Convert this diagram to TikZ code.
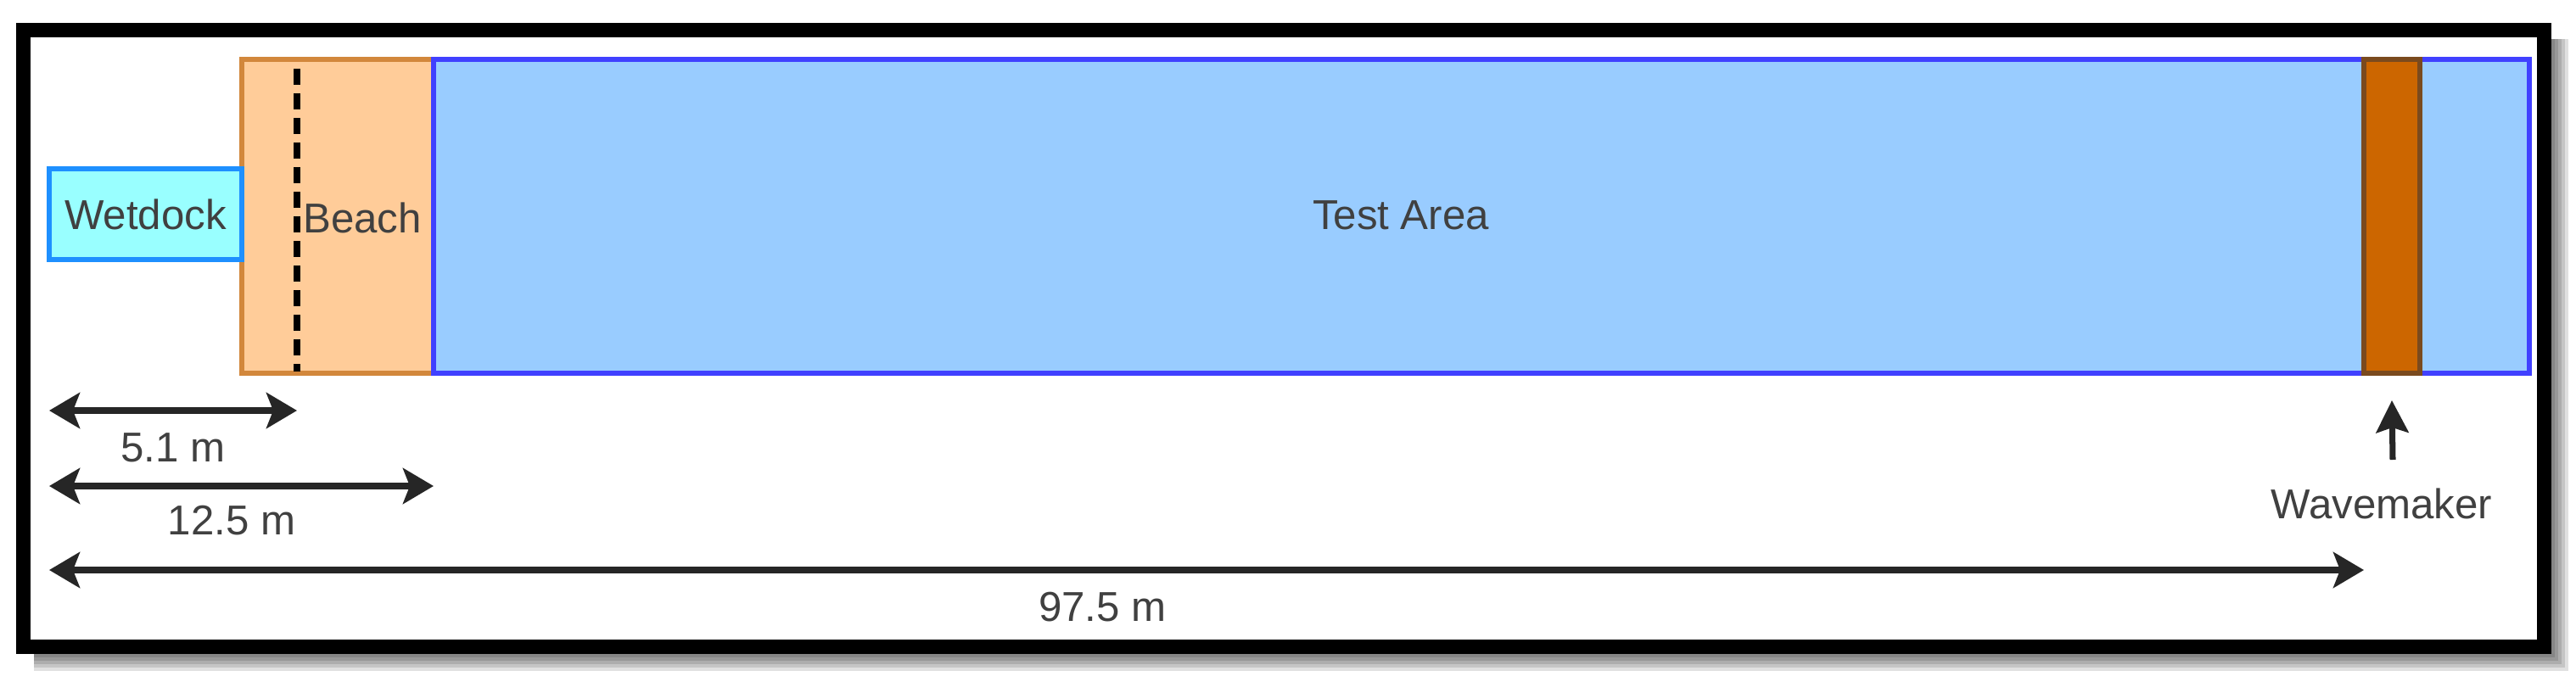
\documentclass[tikz,border=0pt]{standalone}
\usepackage{fontspec}
\setmainfont{Liberation Sans}
\usetikzlibrary{arrows.meta}
\definecolor{dockfill}{RGB}{153,255,255}
\definecolor{dockline}{RGB}{30,144,255}
\definecolor{beachfill}{RGB}{255,204,153}
\definecolor{beachline}{RGB}{210,135,60}
\definecolor{testfill}{RGB}{153,204,255}
\definecolor{testline}{RGB}{64,64,255}
\definecolor{wmfill}{RGB}{204,102,0}
\definecolor{wmline}{RGB}{122,74,30}
\definecolor{txtgray}{RGB}{64,64,64}
\begin{document}
\begin{tikzpicture}[thick, font=\fontsize{14}{16}\selectfont, text=txtgray]
	\tikzstyle{zone} = [rectangle, draw, inner sep=0, outer sep=0, line width=1.7pt]
	\tikzstyle{dim} = [{Stealth[length=0.36cm,width=0.42cm,inset=0.08cm]}-{Stealth[length=0.36cm,width=0.42cm,inset=0.08cm]}, line width=2.4pt, draw=black!85]
	\tikzstyle{ptr} = [-{Stealth[length=0.38cm,width=0.38cm,inset=0.06cm]}, line width=2pt, draw=black!85]
	\useasboundingbox (0,0) rectangle (30.36,8.16);
	\foreach \s in {0.04,0.08,0.12,0.16,0.20}
		\fill[black, opacity=0.12] (0.40,0.45-\s) rectangle (30.07+\s,7.70);
	\draw[line width=0.17cm, fill=white] (0.275,0.535) rectangle (29.985,7.805);
	\node[zone, draw=beachline, fill=beachfill, minimum width=2.26cm, minimum height=3.70cm](beach) at (3.98,5.61) {};
	\node[zone, draw=testline, fill=testfill, minimum width=24.70cm, minimum height=3.70cm](test) at (17.46,5.61) {};
	\node[zone, draw=wmline, fill=wmfill, minimum width=0.66cm, minimum height=3.70cm](wm) at (28.19,5.61) {};
	\node[zone, draw=dockline, fill=dockfill, minimum width=2.27cm, minimum height=1.07cm](wetdock) at (1.715,5.635) {Wetdock};
	\coordinate (dashtop) at (3.50,7.35);
	\coordinate (dashbot) at (3.50,3.78);
	\draw[line width=2pt, dash pattern=on 0.19cm off 0.1cm] (dashtop) -- (dashbot);
	\node[inner sep=0, anchor=west](beachlbl) at (3.56,5.59) {Beach};
	\node(testlbl) at (16.51,5.62) {Test Area};
	\node(wmlbl) at (28.07,2.22) {Wavemaker};
	\coordinate (row1) at (0,3.32);
	\coordinate (row2) at (0,2.43);
	\coordinate (row3) at (0,1.44);
	\draw[dim] (wetdock.west |- row1) -- (dashbot |- row1) node[midway, yshift=-0.44cm] {5.1 m};
	\draw[dim] (wetdock.west |- row2) -- (beach.east |- row2) node[pos=0.475, yshift=-0.41cm] {12.5 m};
	\draw[dim] (wetdock.west |- row3) -- (wm.west |- row3) node[pos=0.455, yshift=-0.44cm] {97.5 m};
	\coordinate (wmfoot) at (28.20,2.74);
	\draw[ptr] (wmfoot) -- ([yshift=-0.32cm]wm.south);
\end{tikzpicture}
\end{document}
